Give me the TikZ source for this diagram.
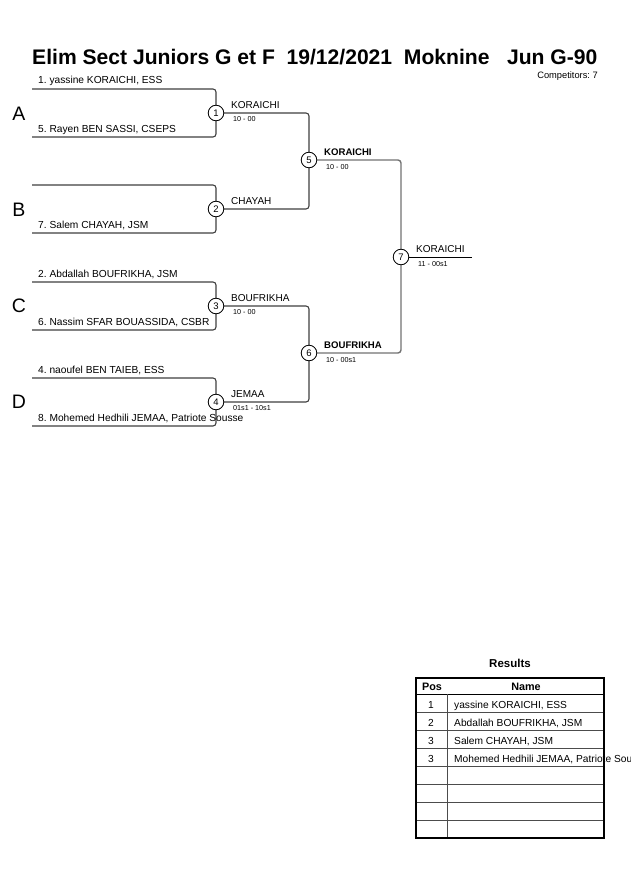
\documentclass[tikz,border=0pt]{standalone}
\usepackage{fontspec}
\setmainfont{Liberation Sans}
\begin{document}
\frenchspacing
\begin{tikzpicture}[x=1pt,y=-1pt,
  br/.style={draw=black!75,line width=1.1pt,rounded corners=3pt},
  brtwo/.style={draw=black!55,line width=1.4pt,rounded corners=3pt},
  mcirc/.style={circle,draw=black,line width=0.7pt,fill=white,inner sep=0pt,minimum size=15.5pt,font=\fontsize{9.5}{10}\selectfont},
  pname/.style={anchor=base west,inner sep=0pt,font=\fontsize{10.2}{12}\selectfont},
  wname/.style={anchor=base west,inner sep=0pt,font=\fontsize{10}{12}\selectfont},
  wbold/.style={anchor=base west,inner sep=0pt,font=\bfseries\fontsize{9.6}{12}\selectfont},
  score/.style={anchor=base west,inner sep=0pt,font=\fontsize{7.2}{8}\selectfont},
  pool/.style={anchor=base,inner sep=0pt,font=\fontsize{19.5}{22}\selectfont},
  cell/.style={anchor=base west,inner sep=0pt,font=\fontsize{10.2}{12}\selectfont},
  cellc/.style={anchor=base,inner sep=0pt,font=\fontsize{10.2}{12}\selectfont},
  head/.style={anchor=base,inner sep=0pt,font=\bfseries\fontsize{10.8}{12}\selectfont}]
\useasboundingbox[fill=white] (0,0) rectangle (630,891);

% title
\node[anchor=base west,inner sep=0pt,font=\bfseries\fontsize{21.1}{24}\selectfont] (title) at (32,64) {Elim Sect Juniors G et F\ \ 19/12/2021\ \ Moknine\ \ \ Jun G-90};
\node[anchor=base east,inner sep=0pt,font=\fontsize{9.3}{10}\selectfont] (comp) at (598,78) {Competitors: 7};

% pool letters
\node[pool] (pA) at (19,120) {A};
\node[pool] (pB) at (19,216) {B};
\node[pool] (pC) at (19,312) {C};
\node[pool] (pD) at (19,408) {D};

% start coordinates
\coordinate (s1) at (32,89);
\coordinate (s5) at (32,137);
\coordinate (sb) at (32,185);
\coordinate (s7) at (32,233);
\coordinate (s2) at (32,282);
\coordinate (s6) at (32,330);
\coordinate (s4) at (32,378);
\coordinate (s8) at (32,426);
\coordinate (fin) at (472,257);

% match circles
\node[mcirc] (m1) at (216,113) {1};
\node[mcirc] (m2) at (216,209) {2};
\node[mcirc] (m3) at (216,306) {3};
\node[mcirc] (m4) at (216,402) {4};
\node[mcirc] (m5) at (309,160) {5};
\node[mcirc] (m6) at (309,353) {6};
\node[mcirc] (m7) at (401,257) {7};

% bracket lines
\draw[br] (s1) -| (m1);
\draw[br] (s5) -| (m1);
\draw[br] (sb) -| (m2);
\draw[br] (s7) -| (m2);
\draw[br] (s2) -| (m3);
\draw[br] (s6) -| (m3);
\draw[br] (s4) -| (m4);
\draw[br] (s8) -| (m4);
\draw[br] (m1) -| (m5);
\draw[br] (m2) -| (m5);
\draw[br] (m3) -| (m6);
\draw[br] (m4) -| (m6);
\draw[brtwo] (m5) -| (m7);
\draw[brtwo] (m6) -| (m7);
\draw[draw=black,line width=0.8pt] (m7) -- (fin);

% redraw circles on top
\foreach \m/\n in {m1/1,m2/2,m3/3,m4/4,m5/5,m6/6,m7/7}{\node[mcirc] at (\m) {\n};}

% player names
\node[pname] (n1) at (38,84) {1. yassine KORAICHI, ESS};
\node[pname] (n5) at (38,132) {5. Rayen BEN SASSI, CSEPS};
\node[pname] (n7) at (38,228) {7. Salem CHAYAH, JSM};
\node[pname] (n2) at (38,277) {2. Abdallah BOUFRIKHA, JSM};
\node[pname] (n6) at (38,325) {6. Nassim SFAR BOUASSIDA, CSBR};
\node[pname] (n4) at (38,373) {4. naoufel BEN TAIEB, ESS};
\node[pname] (n8) at (38,421) {8. Mohemed Hedhili JEMAA, Patriote Sousse};

% winners round 1
\node[wname] (w1) at (231,108) {KORAICHI};
\node[score] (c1) at (233,121) {10 - 00};
\node[wname] (w2) at (231,204) {CHAYAH};
\node[wname] (w3) at (231,301) {BOUFRIKHA};
\node[score] (c3) at (233,314) {10 - 00};
\node[wname] (w4) at (231,397) {JEMAA};
\node[score] (c4) at (233,410) {01s1 - 10s1};

% winners round 2
\node[wbold] (w5) at (324,155) {KORAICHI};
\node[score] (c5) at (326,169) {10 - 00};
\node[wbold] (w6) at (324,348) {BOUFRIKHA};
\node[score] (c6) at (326,362) {10 - 00s1};

% final
\node[wname] (w7) at (416,252) {KORAICHI};
\node[score] (c7) at (418,266) {11 - 00s1};

% results table
\node[anchor=base,inner sep=0pt,font=\bfseries\fontsize{11.5}{13}\selectfont] (res) at (510,667) {Results};
\foreach \y in {712,730,748,766,784,802,820}{\draw[black!70,line width=0.7pt] (416,\y) -- (604,\y);}
\draw[black,line width=0.9pt] (416,694) -- (604,694);
\draw[black!70,line width=0.7pt] (447,694) -- (447,838);
\draw[black,line width=1.4pt] (416,678) rectangle (604,838);
\node[head] (hp) at (432,690) {Pos};
\node[head] (hn) at (526,690) {Name};
\node[cellc] (r1p) at (431,708) {1};
\node[cell] (r1n) at (454,708) {yassine KORAICHI, ESS};
\node[cellc] (r2p) at (431,726) {2};
\node[cell] (r2n) at (454,726) {Abdallah BOUFRIKHA, JSM};
\node[cellc] (r3p) at (431,744) {3};
\node[cell] (r3n) at (454,744) {Salem CHAYAH, JSM};
\node[cellc] (r4p) at (431,762) {3};
\node[cell] (r4n) at (454,762) {Mohemed Hedhili JEMAA, Patriote Sousse};
\end{tikzpicture}
\end{document}
